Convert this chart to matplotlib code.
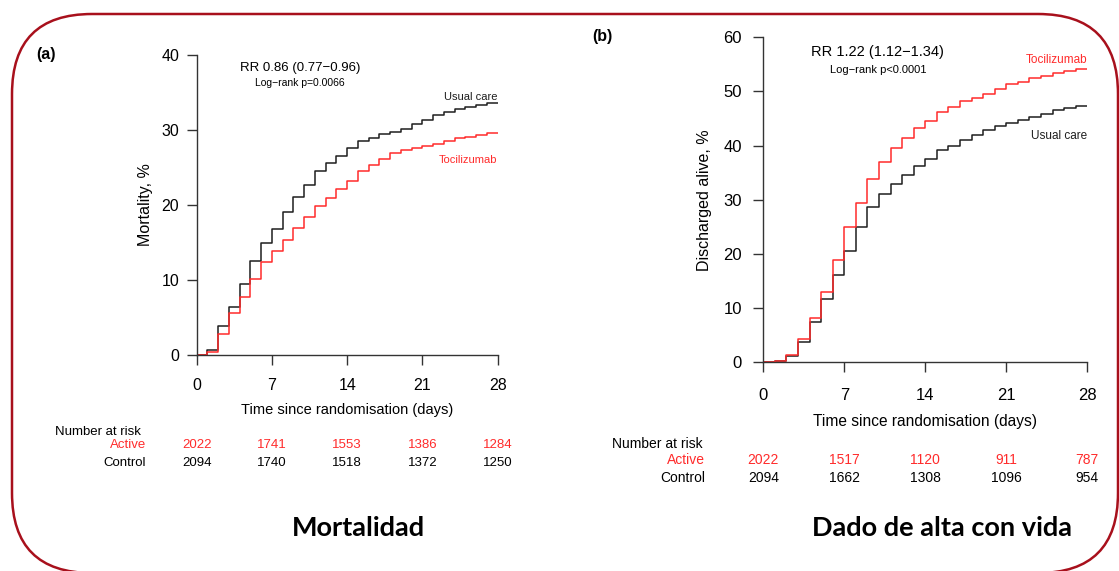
import matplotlib

matplotlib.use("Agg")

import matplotlib.pyplot as plt
from matplotlib.patches import FancyBboxPatch
from matplotlib.transforms import blended_transform_factory

days = list(range(0, 29))

# mortality (%), value held from day i to day i+1
mort_usual = [0, 0.7, 3.9, 6.4, 9.5, 12.5, 15.0, 16.8, 19.1, 21.1, 22.7, 24.5, 25.6, 26.6,
              27.6, 28.5, 29.0, 29.5, 29.8, 30.2, 30.8, 31.3, 32.0, 32.4, 32.8, 33.1, 33.4, 33.6, 33.6]
mort_toci = [0, 0.4, 2.8, 5.6, 7.8, 10.2, 12.4, 13.9, 15.4, 17.0, 18.4, 19.9, 21.0, 22.2,
             23.2, 24.6, 25.3, 26.2, 26.9, 27.3, 27.6, 27.9, 28.2, 28.6, 28.9, 29.1, 29.4, 29.6, 29.6]

# discharged alive (%)
disc_usual = [0, 0.2, 1.2, 3.8, 7.4, 11.6, 16.2, 20.6, 25.0, 28.7, 31.1, 33.0, 34.6, 36.3,
              37.5, 39.2, 40.0, 41.0, 42.0, 42.8, 43.6, 44.2, 44.7, 45.2, 45.8, 46.5, 47.0, 47.4, 47.4]
disc_toci = [0, 0.2, 1.35, 4.3, 8.2, 13.0, 18.8, 24.9, 29.4, 33.8, 36.9, 39.5, 41.5, 43.3,
             44.6, 46.3, 47.2, 48.3, 48.8, 49.5, 50.4, 51.3, 51.8, 52.5, 52.9, 53.4, 53.8, 54.2, 54.2]

risk_days = [0, 7, 14, 21, 28]
mort_active = ["2022", "1741", "1553", "1386", "1284"]
mort_control = ["2094", "1740", "1518", "1372", "1250"]
disc_active = ["2022", "1517", "1120", "911", "787"]
disc_control = ["2094", "1662", "1308", "1096", "954"]

RED = "#ff2b2b"
DARK = "#1e1e1e"
W, H = 1119, 571

plt.rcParams["font.family"] = ["Liberation Sans", "DejaVu Sans"]

fig = plt.figure(figsize=(W / 100, H / 100), dpi=100)
fig.patch.set_facecolor("white")


def fy(py):
    return 1 - py / H


def fx(px):
    return px / W


def km_axes(rect, usual, toci, ymax, ylabel, tick_fs, xl_fs, ypad, xpad, xlpad, ylpad):
    ax = fig.add_axes(rect)
    ax.step(days, usual, where="post", color=DARK, lw=1.1)
    ax.step(days, toci, where="post", color=RED, lw=1.1)
    ax.set_xlim(0, 28)
    ax.set_ylim(0, ymax)
    ax.set_xticks(risk_days)
    ax.set_yticks(range(0, ymax + 1, 10))
    for side in ("top", "right"):
        ax.spines[side].set_visible(False)
    for side in ("left", "bottom"):
        ax.spines[side].set_color("#333333")
        ax.spines[side].set_linewidth(1.0)
    ax.tick_params(length=7.5, width=1.0, color="#333333", labelsize=tick_fs)
    ax.tick_params(axis="y", pad=ypad)
    ax.tick_params(axis="x", pad=xpad)
    ax.set_ylabel(ylabel, fontsize=11.5, labelpad=ylpad)
    ax.set_xlabel("Time since randomisation (days)", fontsize=xl_fs, labelpad=xlpad)
    ax.patch.set_alpha(0)
    return ax


def risk_table(ax, active, control, label_x, y_head, y_act, y_ctl, fs):
    tr = blended_transform_factory(ax.transData, fig.transFigure)
    fig.text(fx(label_x[0]), fy(y_head), "Number at risk", fontsize=fs, ha="left", va="center")
    fig.text(fx(label_x[1]), fy(y_act), "Active", fontsize=fs, color=RED, ha="right", va="center")
    fig.text(fx(label_x[1]), fy(y_ctl), "Control", fontsize=fs, ha="right", va="center")
    for d, a, c in zip(risk_days, active, control):
        ax.text(d, fy(y_act), a, transform=tr, fontsize=fs, color=RED, ha="center", va="center")
        ax.text(d, fy(y_ctl), c, transform=tr, fontsize=fs, ha="center", va="center")


# (a) mortality
ax1 = km_axes([fx(196.7), fy(355), fx(497.7) - fx(196.7), (355 - 55) / H],
              mort_usual, mort_toci, 40, "Mortality, %", 11.5, 10.5,
              ypad=5, xpad=9, xlpad=7, ylpad=6)
ax1.text(9.6, 38.3, "RR 0.86 (0.77\u22120.96)", fontsize=9.5, ha="center", va="center")
ax1.text(9.6, 36.3, "Log\u2212rank p=0.0066", fontsize=7.5, ha="center", va="center")
ax1.text(28, 34.4, "Usual care", fontsize=8, ha="right", va="center", color=DARK)
ax1.text(28, 26.0, "Tocilizumab", fontsize=8, ha="right", va="center", color=RED)
risk_table(ax1, mort_active, mort_control, (55, 146), 432, 445, 463, 9.5)

# (b) discharged alive
ax2 = km_axes([fx(763.3), fy(362.3), fx(1087.3) - fx(763.3), (362.3 - 37.3) / H],
              disc_usual, disc_toci, 60, "Discharged alive, %", 12, 11.2,
              ypad=8, xpad=11, xlpad=8, ylpad=8)
ax2.text(9.9, 57.3, "RR 1.22 (1.12\u22121.34)", fontsize=10.5, ha="center", va="center")
ax2.text(9.9, 54.0, "Log\u2212rank p<0.0001", fontsize=8, ha="center", va="center")
ax2.text(28, 55.8, "Tocilizumab", fontsize=8.5, ha="right", va="center", color=RED)
ax2.text(28, 41.8, "Usual care", fontsize=8.5, ha="right", va="center", color=DARK)
risk_table(ax2, disc_active, disc_control, (612, 705), 444, 460, 478, 10)

fig.text(fx(46), fy(54), "(a)", fontsize=11.5, fontweight="bold", ha="center", va="center")
fig.text(fx(602), fy(36), "(b)", fontsize=11.5, fontweight="bold", ha="center", va="center")

fig.text(fx(358), fy(528), "Mortalidad", family="Lato", fontsize=19.5, fontweight="bold",
         ha="center", va="center")
fig.text(fx(942), fy(528), "Dado de alta con vida", family="Lato", fontsize=19.5,
         fontweight="bold", ha="center", va="center")

# rounded frame (pixel coordinates)
frame = FancyBboxPatch((12, H - 573), 1118 - 12, 573 - 14,
                       boxstyle="round,pad=0,rounding_size=80",
                       transform=None, fill=False, edgecolor="#a8101c", linewidth=1.8)
fig.add_artist(frame)

fig.savefig("out.png", dpi=100)
